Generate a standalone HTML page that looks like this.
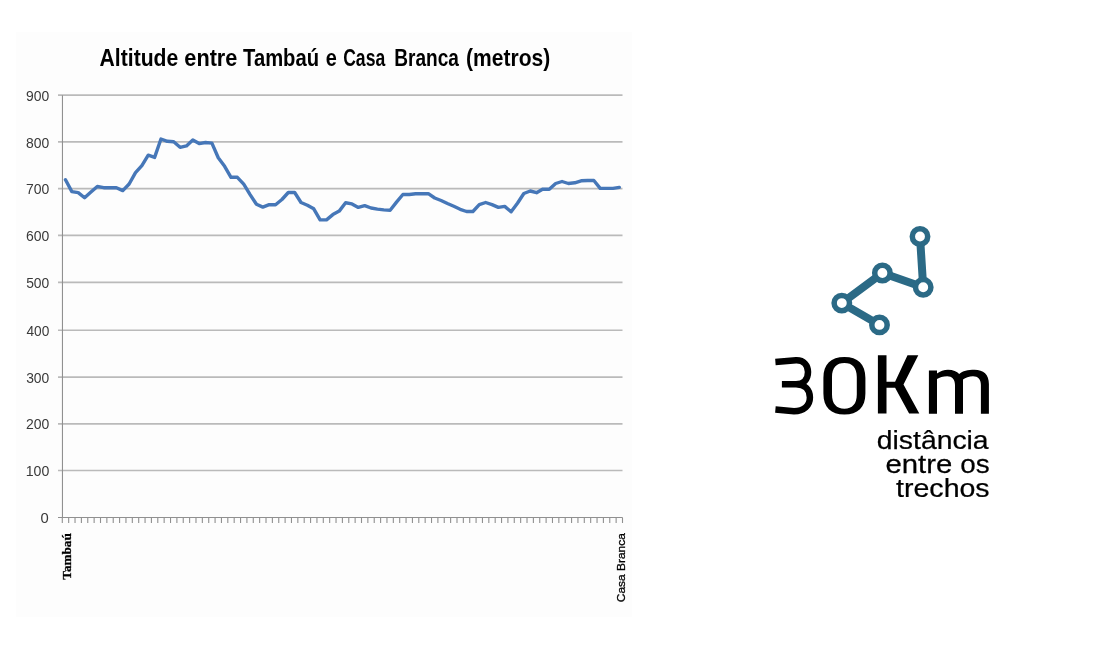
<!DOCTYPE html>
<html><head><meta charset="utf-8"><style>
html,body{margin:0;padding:0;background:#fff;}
body{width:1100px;height:650px;overflow:hidden;position:relative;}
svg{position:absolute;left:0;top:0;will-change:transform;}
</style></head><body>
<svg width="1100" height="650" viewBox="0 0 1100 650">
<rect x="16" y="32" width="616" height="585" fill="#fdfdfd"/>
<text transform="translate(99.58,65.50) scale(0.8641,1)" font-family="Liberation Sans" font-weight="bold" font-size="24.5" fill="#000" >Altitude</text><text transform="translate(184.31,65.50) scale(0.8864,1)" font-family="Liberation Sans" font-weight="bold" font-size="24.5" fill="#000" >entre</text><text transform="translate(243.05,65.50) scale(0.8257,1)" font-family="Liberation Sans" font-weight="bold" font-size="24.5" fill="#000" >Tambaú</text><text transform="translate(325.79,65.50) scale(0.8136,1)" font-family="Liberation Sans" font-weight="bold" font-size="24.5" fill="#000" >e</text><text transform="translate(343.18,65.50) scale(0.7175,1)" font-family="Liberation Sans" font-weight="bold" font-size="24.5" fill="#000" >Casa</text><text transform="translate(394.25,65.50) scale(0.7794,1)" font-family="Liberation Sans" font-weight="bold" font-size="24.5" fill="#000" >Branca</text><text transform="translate(466.07,65.50) scale(0.8588,1)" font-family="Liberation Sans" font-weight="bold" font-size="24.5" fill="#000" >(metros)</text>
<g stroke="#bababa" stroke-width="1.6"><line x1="58" y1="470.50" x2="622.5" y2="470.50"/><line x1="58" y1="423.85" x2="622.5" y2="423.85"/><line x1="58" y1="377.10" x2="622.5" y2="377.10"/><line x1="58" y1="330.25" x2="622.5" y2="330.25"/><line x1="58" y1="282.40" x2="622.5" y2="282.40"/><line x1="58" y1="235.40" x2="622.5" y2="235.40"/><line x1="58" y1="188.60" x2="622.5" y2="188.60"/><line x1="58" y1="141.90" x2="622.5" y2="141.90"/><line x1="58" y1="95.15" x2="622.5" y2="95.15"/></g>
<g stroke="#909090" stroke-width="1.1"><line x1="62.30" y1="517.5" x2="62.30" y2="523.0"/><line x1="68.67" y1="517.5" x2="68.67" y2="523.0"/><line x1="75.03" y1="517.5" x2="75.03" y2="523.0"/><line x1="81.40" y1="517.5" x2="81.40" y2="523.0"/><line x1="87.76" y1="517.5" x2="87.76" y2="523.0"/><line x1="94.13" y1="517.5" x2="94.13" y2="523.0"/><line x1="100.50" y1="517.5" x2="100.50" y2="523.0"/><line x1="106.86" y1="517.5" x2="106.86" y2="523.0"/><line x1="113.23" y1="517.5" x2="113.23" y2="523.0"/><line x1="119.59" y1="517.5" x2="119.59" y2="523.0"/><line x1="125.96" y1="517.5" x2="125.96" y2="523.0"/><line x1="132.32" y1="517.5" x2="132.32" y2="523.0"/><line x1="138.69" y1="517.5" x2="138.69" y2="523.0"/><line x1="145.06" y1="517.5" x2="145.06" y2="523.0"/><line x1="151.42" y1="517.5" x2="151.42" y2="523.0"/><line x1="157.79" y1="517.5" x2="157.79" y2="523.0"/><line x1="164.15" y1="517.5" x2="164.15" y2="523.0"/><line x1="170.52" y1="517.5" x2="170.52" y2="523.0"/><line x1="176.89" y1="517.5" x2="176.89" y2="523.0"/><line x1="183.25" y1="517.5" x2="183.25" y2="523.0"/><line x1="189.62" y1="517.5" x2="189.62" y2="523.0"/><line x1="195.98" y1="517.5" x2="195.98" y2="523.0"/><line x1="202.35" y1="517.5" x2="202.35" y2="523.0"/><line x1="208.72" y1="517.5" x2="208.72" y2="523.0"/><line x1="215.08" y1="517.5" x2="215.08" y2="523.0"/><line x1="221.45" y1="517.5" x2="221.45" y2="523.0"/><line x1="227.81" y1="517.5" x2="227.81" y2="523.0"/><line x1="234.18" y1="517.5" x2="234.18" y2="523.0"/><line x1="240.55" y1="517.5" x2="240.55" y2="523.0"/><line x1="246.91" y1="517.5" x2="246.91" y2="523.0"/><line x1="253.28" y1="517.5" x2="253.28" y2="523.0"/><line x1="259.64" y1="517.5" x2="259.64" y2="523.0"/><line x1="266.01" y1="517.5" x2="266.01" y2="523.0"/><line x1="272.38" y1="517.5" x2="272.38" y2="523.0"/><line x1="278.74" y1="517.5" x2="278.74" y2="523.0"/><line x1="285.11" y1="517.5" x2="285.11" y2="523.0"/><line x1="291.47" y1="517.5" x2="291.47" y2="523.0"/><line x1="297.84" y1="517.5" x2="297.84" y2="523.0"/><line x1="304.20" y1="517.5" x2="304.20" y2="523.0"/><line x1="310.57" y1="517.5" x2="310.57" y2="523.0"/><line x1="316.94" y1="517.5" x2="316.94" y2="523.0"/><line x1="323.30" y1="517.5" x2="323.30" y2="523.0"/><line x1="329.67" y1="517.5" x2="329.67" y2="523.0"/><line x1="336.03" y1="517.5" x2="336.03" y2="523.0"/><line x1="342.40" y1="517.5" x2="342.40" y2="523.0"/><line x1="348.77" y1="517.5" x2="348.77" y2="523.0"/><line x1="355.13" y1="517.5" x2="355.13" y2="523.0"/><line x1="361.50" y1="517.5" x2="361.50" y2="523.0"/><line x1="367.86" y1="517.5" x2="367.86" y2="523.0"/><line x1="374.23" y1="517.5" x2="374.23" y2="523.0"/><line x1="380.60" y1="517.5" x2="380.60" y2="523.0"/><line x1="386.96" y1="517.5" x2="386.96" y2="523.0"/><line x1="393.33" y1="517.5" x2="393.33" y2="523.0"/><line x1="399.69" y1="517.5" x2="399.69" y2="523.0"/><line x1="406.06" y1="517.5" x2="406.06" y2="523.0"/><line x1="412.43" y1="517.5" x2="412.43" y2="523.0"/><line x1="418.79" y1="517.5" x2="418.79" y2="523.0"/><line x1="425.16" y1="517.5" x2="425.16" y2="523.0"/><line x1="431.52" y1="517.5" x2="431.52" y2="523.0"/><line x1="437.89" y1="517.5" x2="437.89" y2="523.0"/><line x1="444.25" y1="517.5" x2="444.25" y2="523.0"/><line x1="450.62" y1="517.5" x2="450.62" y2="523.0"/><line x1="456.99" y1="517.5" x2="456.99" y2="523.0"/><line x1="463.35" y1="517.5" x2="463.35" y2="523.0"/><line x1="469.72" y1="517.5" x2="469.72" y2="523.0"/><line x1="476.08" y1="517.5" x2="476.08" y2="523.0"/><line x1="482.45" y1="517.5" x2="482.45" y2="523.0"/><line x1="488.82" y1="517.5" x2="488.82" y2="523.0"/><line x1="495.18" y1="517.5" x2="495.18" y2="523.0"/><line x1="501.55" y1="517.5" x2="501.55" y2="523.0"/><line x1="507.91" y1="517.5" x2="507.91" y2="523.0"/><line x1="514.28" y1="517.5" x2="514.28" y2="523.0"/><line x1="520.65" y1="517.5" x2="520.65" y2="523.0"/><line x1="527.01" y1="517.5" x2="527.01" y2="523.0"/><line x1="533.38" y1="517.5" x2="533.38" y2="523.0"/><line x1="539.74" y1="517.5" x2="539.74" y2="523.0"/><line x1="546.11" y1="517.5" x2="546.11" y2="523.0"/><line x1="552.48" y1="517.5" x2="552.48" y2="523.0"/><line x1="558.84" y1="517.5" x2="558.84" y2="523.0"/><line x1="565.21" y1="517.5" x2="565.21" y2="523.0"/><line x1="571.57" y1="517.5" x2="571.57" y2="523.0"/><line x1="577.94" y1="517.5" x2="577.94" y2="523.0"/><line x1="584.30" y1="517.5" x2="584.30" y2="523.0"/><line x1="590.67" y1="517.5" x2="590.67" y2="523.0"/><line x1="597.04" y1="517.5" x2="597.04" y2="523.0"/><line x1="603.40" y1="517.5" x2="603.40" y2="523.0"/><line x1="609.77" y1="517.5" x2="609.77" y2="523.0"/><line x1="616.13" y1="517.5" x2="616.13" y2="523.0"/><line x1="622.50" y1="517.5" x2="622.50" y2="523.0"/>
<line x1="58" y1="517.5" x2="622.5" y2="517.5"/>
<line x1="62.46" y1="95.15" x2="62.46" y2="517.5"/></g>
<g><text transform="translate(40.51,523.10) scale(0.9861,1)" font-family="Liberation Sans" font-weight="normal" font-size="15" fill="#3a3a3a" >0</text><text transform="translate(25.66,476.10) scale(0.9444,1)" font-family="Liberation Sans" font-weight="normal" font-size="15" fill="#3a3a3a" >100</text><text transform="translate(25.95,429.45) scale(0.9325,1)" font-family="Liberation Sans" font-weight="normal" font-size="15" fill="#3a3a3a" >200</text><text transform="translate(26.15,382.70) scale(0.9247,1)" font-family="Liberation Sans" font-weight="normal" font-size="15" fill="#3a3a3a" >300</text><text transform="translate(26.43,335.85) scale(0.9132,1)" font-family="Liberation Sans" font-weight="normal" font-size="15" fill="#3a3a3a" >400</text><text transform="translate(26.15,288.00) scale(0.9247,1)" font-family="Liberation Sans" font-weight="normal" font-size="15" fill="#3a3a3a" >500</text><text transform="translate(25.95,241.00) scale(0.9325,1)" font-family="Liberation Sans" font-weight="normal" font-size="15" fill="#3a3a3a" >600</text><text transform="translate(25.95,194.20) scale(0.9325,1)" font-family="Liberation Sans" font-weight="normal" font-size="15" fill="#3a3a3a" >700</text><text transform="translate(26.05,147.50) scale(0.9286,1)" font-family="Liberation Sans" font-weight="normal" font-size="15" fill="#3a3a3a" >800</text><text transform="translate(26.05,100.75) scale(0.9286,1)" font-family="Liberation Sans" font-weight="normal" font-size="15" fill="#3a3a3a" >900</text></g>
<polyline points="65.48,179.8 71.85,191.6 78.21,192.6 84.58,197.8 90.95,192.1 97.31,186.5 103.68,187.7 110.04,187.7 116.41,187.7 122.78,190.6 129.14,184.0 135.51,172.6 141.87,165.6 148.24,155.2 154.61,157.4 160.97,139.0 167.34,141.3 173.70,141.8 180.07,147.3 186.44,145.9 192.80,140.0 199.17,143.6 205.53,142.5 211.90,143.1 218.26,157.8 224.63,166.3 231.00,177.3 237.36,177.3 243.73,184.2 250.09,194.6 256.46,204.3 262.83,207.1 269.19,204.7 275.56,204.7 281.92,199.5 288.29,192.5 294.66,192.5 301.02,202.5 307.39,205.2 313.75,208.8 320.12,219.9 326.49,219.9 332.85,214.6 339.22,211.1 345.58,202.8 351.95,203.9 358.31,207.4 364.68,205.6 371.05,208.0 377.41,209.1 383.78,209.9 390.14,210.2 396.51,202.1 402.88,194.5 409.24,194.5 415.61,193.8 421.97,193.8 428.34,193.6 434.71,198.0 441.07,200.5 447.44,203.5 453.80,206.3 460.17,209.3 466.54,211.5 472.90,211.5 479.27,204.6 485.63,202.5 492.00,204.6 498.36,207.4 504.73,206.4 511.10,211.8 517.46,203.2 523.83,193.5 530.19,191.0 536.56,192.7 542.93,189.1 549.29,189.3 555.66,183.5 562.02,181.5 568.39,183.5 574.76,182.8 581.12,180.8 587.49,180.5 593.85,180.5 600.22,188.4 606.59,188.4 612.95,188.4 619.32,187.4" fill="none" stroke="#4677b8" stroke-width="3.4" stroke-linejoin="round" stroke-linecap="round"/>
<text transform="translate(70.50,579.71) rotate(-90) scale(1.0337,1)" font-family="Liberation Serif" font-weight="bold" font-size="12.8" fill="#000" stroke="#000" stroke-width="0.3">Tambaú</text>
<text transform="translate(624.70,602.25) rotate(-90) scale(1.0873,1)" font-family="Liberation Sans" font-weight="normal" font-size="11" fill="#000" stroke="#000" stroke-width="0.3">Casa Branca</text>
<g fill="none" stroke="#2b6a86">
<polyline points="879.5,324.9 841.8,303.1 882.4,273 923.2,287.3 920,236.5" stroke-width="8"/>
</g>
<g fill="#fff" stroke="#2b6a86" stroke-width="5.5">
<circle cx="920" cy="236.5" r="7.7"/>
<circle cx="923.2" cy="287.3" r="7.7"/>
<circle cx="882.4" cy="273" r="7.7"/>
<circle cx="841.8" cy="303.1" r="7.7"/>
<circle cx="879.5" cy="324.9" r="7.7"/>
</g>
<g fill="#000">
<path d="M775.4,361.9 L796,360.3 C804,360 808,365.5 808,372 C808,379.5 803.5,384.2 796,384.2 L781.9,384.2 M796,384.2 C805,384.2 809.9,390 809.9,397.5 C809.9,405.5 804,411.2 794,411.2 L775.4,409.6" fill="none" stroke="#000" stroke-width="6.5"/>
<path fill-rule="evenodd" d="M823.4,378 C823.4,364 831,357 844.4,357 C857.8,357 865.4,364 865.4,378 L865.4,393.6 C865.4,407.6 857.8,414.6 844.4,414.6 C831,414.6 823.4,407.6 823.4,393.6 Z M832,377 C832,367.5 836.5,362.9 844.4,362.9 C852.3,362.9 856.8,367.5 856.8,377 L856.8,394.6 C856.8,404.1 852.3,408.7 844.4,408.7 C836.5,408.7 832,404.1 832,394.6 Z"/>
<path d="M877.9,355.2 L886.5,355.2 L886.5,381.7 L895.1,381.7 L907.5,355.2 L918.3,355.2 L903.5,384.6 L919.3,413.5 L909.1,413.5 L895.1,387.7 L886.5,387.7 L886.5,413.5 L877.9,413.5 Z"/>
<path d="M928.9,413.7 L928.9,370.6 L937,370.6 L937,373.5 C940,371 944,369.7 948,369.7 C953,369.7 957,371.5 959.2,374 C962.5,371 968,369.7 974.5,369.7 C983.5,369.7 988.9,374.5 988.9,384 L988.9,413.7 L980.9,413.7 L980.9,385 C980.9,379 978,376.2 973,376.2 C969,376.2 965.5,377.5 963,379.4 L963,413.7 L955,413.7 L955,385 C955,379 952,376.2 947.2,376.2 C943,376.2 939.5,377.5 937,379 L937,413.7 Z"/>
</g>
<text transform="translate(876.82,448.50) scale(1.0696,1)" font-family="Liberation Sans" font-weight="normal" font-size="26.5" fill="#000" stroke="#000" stroke-width="0.25">distância</text><text transform="translate(885.48,472.90) scale(1.1065,1)" font-family="Liberation Sans" font-weight="normal" font-size="26.5" fill="#000" stroke="#000" stroke-width="0.25">entre</text><text transform="translate(960.34,472.90) scale(1.0502,1)" font-family="Liberation Sans" font-weight="normal" font-size="26.5" fill="#000" stroke="#000" stroke-width="0.25">os</text><text transform="translate(896.07,496.90) scale(1.0771,1)" font-family="Liberation Sans" font-weight="normal" font-size="26.5" fill="#000" stroke="#000" stroke-width="0.25">trechos</text>
</svg>
</body></html>
